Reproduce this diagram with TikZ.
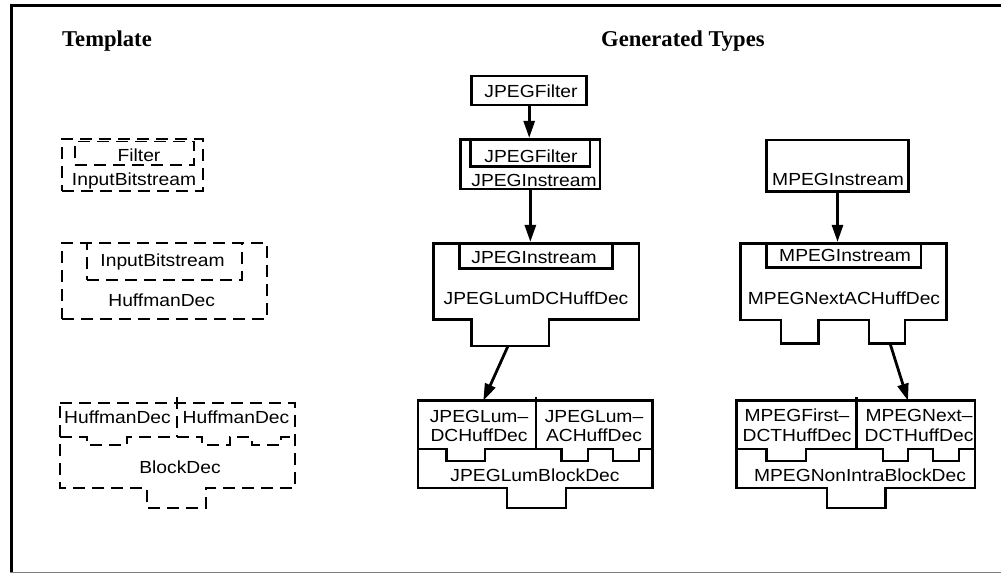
\documentclass[tikz,border=0pt]{standalone}
\usepackage{fontspec}
\usetikzlibrary{arrows.meta}
\newfontfamily\boxfont[FakeStretch=1.1]{Liberation Sans}
\newfontfamily\headfont{Liberation Serif}
\tikzset{
  frameline/.style={line width=3pt},
  sbox/.style={draw, line width=2.8pt, inner sep=0pt},
  dbox/.style={draw, line width=1.8pt, dash pattern=on 12pt off 7pt, inner sep=0pt},
  sline/.style={line width=2.8pt, line join=miter},
  dline/.style={line width=1.8pt, dash pattern=on 12pt off 7pt},
  lbl/.style={font=\boxfont\fontsize{17.5}{20}\selectfont, inner sep=0pt, anchor=base},
  head/.style={font=\headfont\fontsize{22.6}{26}\selectfont\bfseries, inner sep=0pt, anchor=base west},
  arr/.style={line width=2.8pt, -{Triangle[length=17pt,width=11pt]}},
}
\begin{document}
\begin{tikzpicture}[x=1pt,y=-1pt]
\useasboundingbox (0,0) rectangle (1001,574);

% outer frame
\draw[frameline] (1001,5.5) -- (11.5,5.5) -- (11.5,572);
\draw[line width=1.5pt, gray] (10,572.5) -- (1001,572.5);

% column headings
\node[head] (htemplate) at (62,46) {Template};
\node[head] (hgen) at (601,46) {Generated Types};

% ---------- template column ----------
% Filter inside InputBitstream
\node[dbox, minimum width=141, minimum height=52] (t1o) at (132.5,165) {};
\node[dbox, minimum width=119, minimum height=23.5] (t1i) at (134.5,153.25) {};
\node[lbl] (t1il) at (139,161) {Filter};
\node[lbl] (t1ol) at (134,185) {InputBitstream};

% InputBitstream inside HuffmanDec
\node[dbox, minimum width=205, minimum height=76] (t2o) at (164.5,281) {};
\node[dbox, minimum width=155, minimum height=37] (t2i) at (164.5,261.5) {};
\node[lbl] (t2il) at (162.5,266) {InputBitstream};
\node[lbl] (t2ol) at (161.7,306.5) {HuffmanDec};

% two HuffmanDec inside BlockDec
\draw[dline] (60,403) -- (295,403) -- (295,488) -- (206,488) -- (206,508)
  -- (147,508) -- (147,488) -- (60,488) -- cycle;
\draw[dline] (60,437) -- (87,437) -- (87,445) -- (127,445) -- (127,437)
  -- (177,437) -- (202,437) -- (202,445) -- (230,445) -- (230,437)
  -- (252,437) -- (252,445) -- (281,445) -- (281,437) -- (295,437);
\draw[dline] (177,397) -- (177,437);
\node[lbl] (t3a) at (117.5,423) {HuffmanDec};
\node[lbl] (t3b) at (236,423) {HuffmanDec};
\node[lbl] (t3c) at (180,473) {BlockDec};

% ---------- JPEG column ----------
\node[sbox, minimum width=115, minimum height=29] (jfilt) at (529.2,90.5) {};
\node[lbl] (jfiltl) at (531,97) {JPEGFilter};

\node[sbox, minimum width=139.3, minimum height=49.7] (jin) at (530.35,164.15) {};
\node[sbox, minimum width=119.3, minimum height=27.4] (jinf) at (530.35,153) {};
\node[lbl] (jinfl) at (531,162) {JPEGFilter};
\node[lbl] (jinl) at (534,186) {JPEGInstream};

% JPEGLumDCHuffDec
\draw[sline] (433.3,243.3) -- (639,243.3) -- (639,319.3) -- (549,319.3)
  -- (549,346) -- (471.7,346) -- (471.7,319.3) -- (433.3,319.3) -- cycle;
\coordinate (jdcpeg) at (508,346);
\node[sbox, minimum width=153.4, minimum height=25] (jdcin) at (536,255.8) {};
\node[lbl] (jdcinl) at (534,263) {JPEGInstream};
\node[lbl] (jdcl) at (536,304) {JPEGLumDCHuffDec};

% JPEGLumBlockDec
\draw[sline] (418,400.7) -- (652.7,400.7) -- (652.7,488) -- (566,488)
  -- (566,508) -- (507,508) -- (507,488) -- (418,488) -- cycle;
\draw[sline] (418,449) -- (446.7,449) -- (446.7,461) -- (485,461) -- (485,449)
  -- (536,449) -- (561.7,449) -- (561.7,461) -- (588,461) -- (588,449)
  -- (613,449) -- (613,461) -- (639,461) -- (639,449) -- (652.7,449);
\draw[sline] (536,397) -- (536,449);
\coordinate (jbdin) at (483.3,400.7);
\node[lbl] (jbda1) at (479,422) {JPEGLum–};
\node[lbl] (jbda2) at (479,441.5) {DCHuffDec};
\node[lbl] (jbdb1) at (594,422) {JPEGLum–};
\node[lbl] (jbdb2) at (594,441.5) {ACHuffDec};
\node[lbl] (jbdl) at (535,481.5) {JPEGLumBlockDec};

% JPEG connectors
\draw[arr] (jfilt.south) -- (jfilt.south |- jin.north);
\draw[arr] (jin.south) -- (jin.south |- jdcin.north);
\draw[arr] (jdcpeg) -- (jbdin);

% ---------- MPEG column ----------
\node[sbox, minimum width=141.6, minimum height=51.7] (min) at (837.5,165.85) {};
\node[lbl] (minl) at (838,185) {MPEGInstream};

% MPEGNextACHuffDec
\draw[sline] (740.7,243.3) -- (946.7,243.3) -- (946.7,320) -- (905,320)
  -- (905,343.3) -- (869,343.3) -- (869,320) -- (818.3,320) -- (818.3,343.3)
  -- (781,343.3) -- (781,320) -- (740.7,320) -- cycle;
\coordinate (macpeg) at (890,343.3);
\node[sbox, minimum width=154.3, minimum height=24] (macin) at (843.85,255.3) {};
\node[lbl] (macinl) at (845,261.5) {MPEGInstream};
\node[lbl] (macl) at (844,304) {MPEGNextACHuffDec};

% MPEGNonIntraBlockDec
\draw[sline] (736.7,400.7) -- (975,400.7) -- (975,488) -- (885.7,488)
  -- (885.7,508) -- (827,508) -- (827,488) -- (736.7,488) -- cycle;
\draw[sline] (736.7,449) -- (766.7,449) -- (766.7,461) -- (806,461) -- (806,449)
  -- (856.7,449) -- (883,449) -- (883,461) -- (908,461) -- (908,449)
  -- (933,449) -- (933,461) -- (959,461) -- (959,449) -- (975,449);
\draw[sline] (856.7,397) -- (856.7,449);
\coordinate (mbdin) at (908,400.7);
\node[lbl] (mbda1) at (797,421) {MPEGFirst–};
\node[lbl] (mbda2) at (797,441) {DCTHuffDec};
\node[lbl] (mbdb1) at (919,421) {MPEGNext–};
\node[lbl] (mbdb2) at (919,441) {DCTHuffDec};
\node[lbl] (mbdl) at (860,481.5) {MPEGNonIntraBlockDec};

% MPEG connectors
\draw[arr] (min.south) -- (min.south |- macin.north);
\draw[arr] (macpeg) -- (mbdin);
\end{tikzpicture}
\end{document}
